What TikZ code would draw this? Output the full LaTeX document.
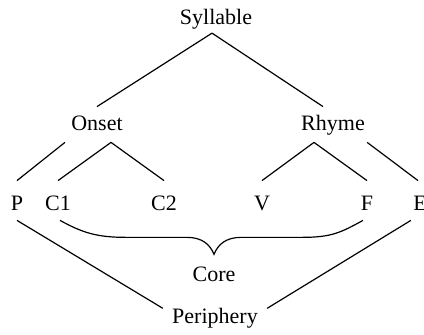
\documentclass[tikz,border=0pt]{standalone}
\usepackage{fontspec}
\setmainfont{Liberation Serif}
\usetikzlibrary{positioning, calc}

\begin{document}
\begin{tikzpicture}[
  x=0.5pt, y=-0.5pt,
  every node/.style={font=\fontsize{11}{13}\selectfont, anchor=base},
  root/.style={inner ysep=1.5pt},
  inner/.style={inner xsep=3pt, inner ysep=4.5pt, text height=7.5pt,
                text depth=1pt},
  leaf/.style={inner xsep=0pt, inner ysep=4.5pt, text height=10.5pt,
               text depth=0pt},
  group/.style={inner xsep=4.5pt, inner ysep=0pt},
  link/.style={line width=0.6pt}
]
  \useasboundingbox (0,0) rectangle (424,335);
  \node[root]  (syl)   at (216,25)  {Syllable};
  \node[inner] (onset) at (97,131)  {Onset};
  \node[inner] (rhyme) at (333,131) {Rhyme};
  \node[leaf]  (p)     at (17,211)  {P};
  \node[leaf]  (c1)    at (58,211)  {C1};
  \node[leaf]  (c2)    at (164,211) {C2};
  \node[leaf]  (v)     at (262,211) {V};
  \node[leaf]  (f)     at (367,211) {F};
  \node[leaf]  (e)     at (420,211) {E};
  \node        (core)  at (214,282) {Core};
  \node[group] (peri)  at (215,324) {Periphery};
  \coordinate (tip) at ([yshift=3pt]core.north);
  \draw[link] ([xshift=-2pt]syl.south) -- (onset.north);
  \draw[link] ([xshift=-2pt]syl.south) -- ([xshift=-5pt]rhyme.north);
  \draw[link] (onset.south west) -- (p.north);
  \draw[link] ([xshift=7pt]onset.south) -- (c1.north);
  \draw[link] ([xshift=7pt]onset.south) -- (c2.north);
  \draw[link] ([xshift=-9.5pt]rhyme.south) -- (v.north);
  \draw[link] ([xshift=-9.5pt]rhyme.south) -- (f.north);
  \draw[link] ([xshift=-2pt]rhyme.south east) -- ([xshift=-1pt]e.north);
  \draw[link] (p.south) -- (peri.north west);
  \draw[link] ([xshift=-1pt]e.south west) -- (peri.north east);
  \draw[link] ([xshift=1pt]c1.south)
        .. controls +(22,12) and +(-30,0) .. ($(tip)+(-88,-17)$)
        -- ($(tip)+(-27,-17)$)
        .. controls +(15,0) and +(-4,-10) .. (tip)
        .. controls +(4,-10) and +(-15,0) .. ($(tip)+(27,-17)$)
        -- ($(tip)+(88,-17)$)
        .. controls +(30,0) and +(-22,12) .. ([xshift=-2pt]f.south);
\end{tikzpicture}
\end{document}
